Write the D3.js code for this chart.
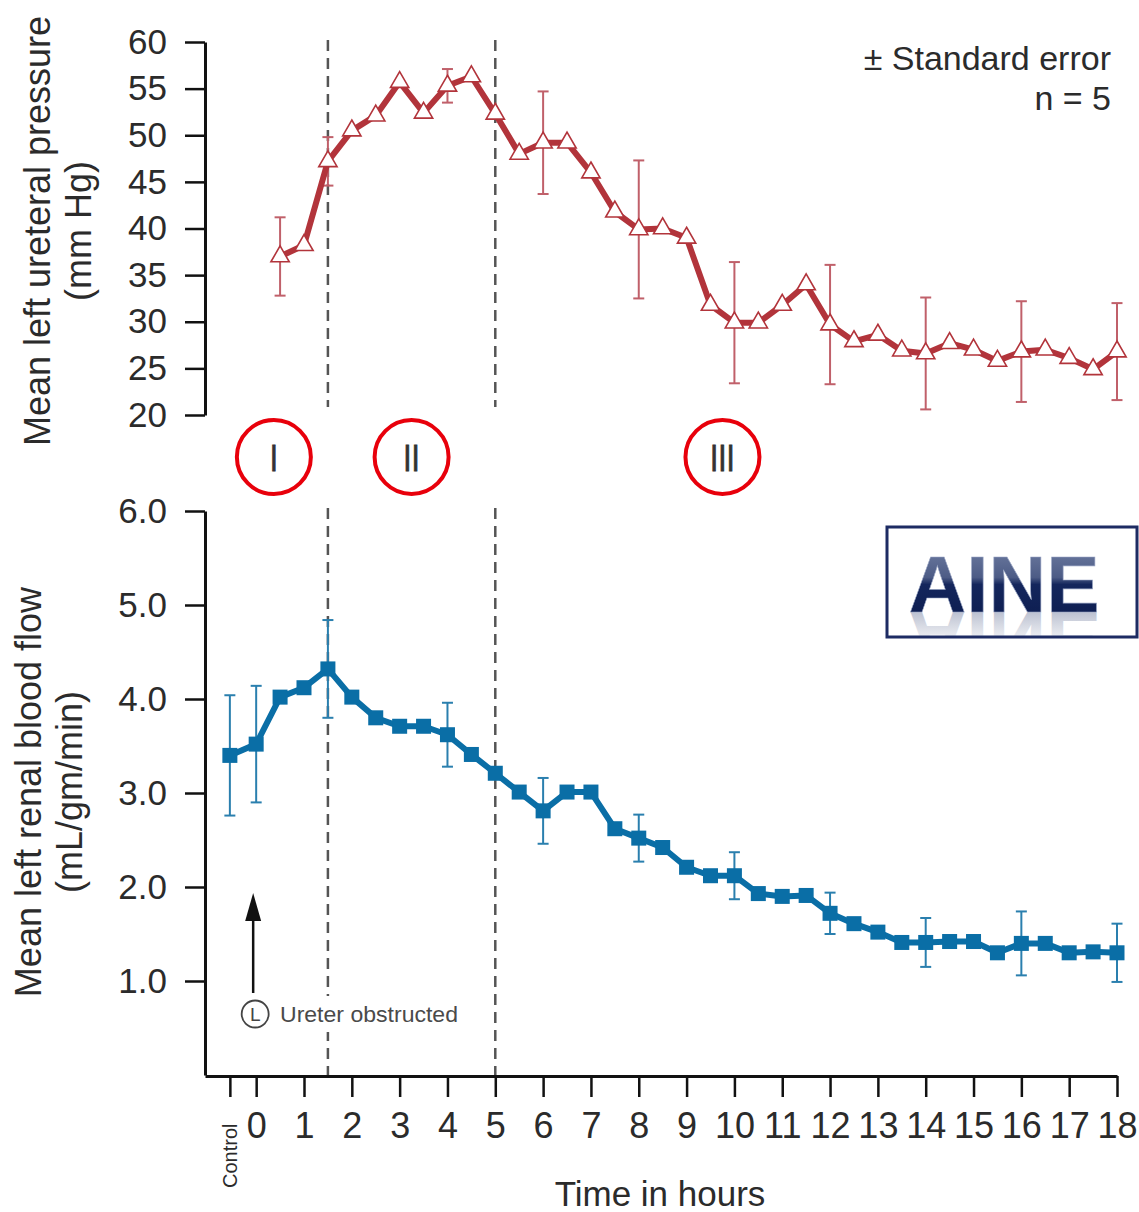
<!DOCTYPE html>
<html>
<head>
<meta charset="utf-8">
<script src="https://cdn.jsdelivr.net/npm/d3@7"></script>
<style>
  body { margin: 0; background: #fff; }
  svg { display: block; font-family: "Liberation Sans", Arial, Helvetica, sans-serif; }
</style>
</head>
<body>
<svg id="chart" width="1139" height="1212"></svg>
<script>
// ---- data ----
const CONTROL_AT = -0.55; // where the "Control" tick sits on the hour axis

const hourTicks = [0, 1, 2, 3, 4, 5, 6, 7, 8, 9, 10, 11, 12, 13, 14, 15, 16, 17, 18];
const phaseBreaks = [1.5, 5];
const phaseLabels = ['I', 'II', 'III'];
const phaseLabelHours = [0.37, 3.25, 9.75];

// ureteral pressure (mm Hg)
const pressureHours = [0.5, 1, 1.5, 2, 2.5, 3, 3.5, 4, 4.5, 5, 5.5, 6, 6.5, 7, 7.5, 8, 8.5, 9,
  9.5, 10, 10.5, 11, 11.5, 12, 12.5, 13, 13.5, 14, 14.5, 15, 15.5, 16, 16.5, 17, 17.5, 18];
const pressureMean = [37.0, 38.2, 47.2, 50.5, 52.1, 55.7, 52.4, 55.3, 56.3, 52.3, 48.0, 49.2,
  49.2, 46.0, 41.8, 39.9, 40.0, 39.0, 31.8, 29.9, 29.9, 31.8, 34.0, 29.7, 27.9, 28.6, 26.9, 26.6,
  27.7, 27.0, 25.8, 26.8, 27.0, 26.1, 24.9, 26.8];
const pressureErrHours = [0.5, 1.5, 4, 6, 8, 10, 12, 14, 16, 18];
const pressureSE = [4.2, 2.6, 1.8, 5.5, 7.4, 6.5, 6.4, 6.0, 5.4, 5.2];
const pressureTicks = [20, 25, 30, 35, 40, 45, 50, 55, 60];

// renal blood flow (mL/gm/min)
const flowTimes = ['Control', 0, 0.5, 1, 1.5, 2, 2.5, 3, 3.5, 4, 4.5, 5, 5.5, 6, 6.5, 7, 7.5, 8,
  8.5, 9, 9.5, 10, 10.5, 11, 11.5, 12, 12.5, 13, 13.5, 14, 14.5, 15, 15.5, 16, 16.5, 17, 17.5, 18];
const flowMean = [3.40, 3.52, 4.02, 4.12, 4.32, 4.02, 3.80, 3.71, 3.71, 3.62, 3.41, 3.21, 3.01,
  2.81, 3.01, 3.01, 2.62, 2.52, 2.42, 2.21, 2.12, 2.12, 1.93, 1.90, 1.91, 1.72, 1.61, 1.52, 1.41,
  1.41, 1.42, 1.42, 1.30, 1.40, 1.40, 1.30, 1.31, 1.30];
const flowErrTimes = ['Control', 0, 1.5, 4, 6, 8, 10, 12, 14, 16, 18];
const flowSE = [0.64, 0.62, 0.52, 0.34, 0.35, 0.25, 0.25, 0.22, 0.26, 0.34, 0.31];
const flowTicks = [1, 2, 3, 4, 5, 6];

const RED = '#b2343b', RED_ERR = '#c0606a';
const BLUE = '#0a6ea6', BLUE_ERR = '#2a7fae';
const INK = '#2b2b2b';

const hourOf = t => (t === 'Control' ? CONTROL_AT : t);

const svg = d3.select('#chart');

// shared x scale (hours), left edge at the y axes
const x = d3.scaleLinear().domain([-1.07, 18]).range([205, 1117]);

const yP = d3.scaleLinear().domain([20, 60]).range([415, 42]);
const yF = d3.scaleLinear().domain([0, 6]).range([1075, 511]);

function styleAxis(g) {
  g.select('.domain').attr('stroke', '#111').attr('stroke-width', 3);
  g.selectAll('.tick line').attr('stroke', '#111').attr('stroke-width', 2.5);
  g.selectAll('.tick text').attr('fill', INK).style('font-size', '35px');
}

// ---- y axes ----
svg.append('g')
  .attr('transform', 'translate(205,0)')
  .call(d3.axisLeft(yP).tickValues(pressureTicks).tickSize(20).tickSizeOuter(0).tickPadding(18))
  .call(styleAxis);

svg.append('g')
  .attr('transform', 'translate(205,0)')
  .call(d3.axisLeft(yF).tickValues(flowTicks).tickSize(20).tickSizeOuter(0).tickPadding(18)
    .tickFormat(d3.format('.1f')))
  .call(styleAxis);

// ---- x axis ----
const xAxis = svg.append('g')
  .attr('transform', 'translate(0,1076)')
  .call(d3.axisBottom(x).tickValues([CONTROL_AT].concat(hourTicks)).tickSize(21)
    .tickSizeOuter(0).tickPadding(14)
    .tickFormat(d => (d === CONTROL_AT ? '' : d)))
  .call(styleAxis);
xAxis.selectAll('.tick text').style('font-size', '36px').attr('dy', '0.74em');

svg.append('text')
  .attr('transform', `translate(${x(CONTROL_AT) + 7},1188) rotate(-90)`)
  .attr('fill', INK).style('font-size', '20px')
  .text('Control');

svg.append('text')
  .attr('x', 660).attr('y', 1206).attr('text-anchor', 'middle')
  .attr('fill', INK).style('font-size', '35px')
  .text('Time in hours');

// ---- axis titles ----
function yTitle(lines, cx, cy) {
  const t = svg.append('text')
    .attr('transform', `translate(${cx},${cy}) rotate(-90)`)
    .attr('text-anchor', 'middle').attr('fill', INK).style('font-size', '36px');
  lines.forEach((s, i) => t.append('tspan').attr('x', 0).attr('dy', i ? 41 : 0).text(s));
}
yTitle(['Mean left ureteral pressure', '(mm Hg)'], 50, 231);
yTitle(['Mean left renal blood flow', '(mL/gm/min)'], 41, 792);

// ---- phase boundaries ----
phaseBreaks.forEach(h => {
  [[40, 407], [508, 1075]].forEach(([a, b]) => {
    svg.append('line')
      .attr('x1', x(h)).attr('x2', x(h)).attr('y1', a).attr('y2', b)
      .attr('stroke', '#555').attr('stroke-width', 2.5).attr('stroke-dasharray', '11,7');
  });
});

// phase markers
phaseLabels.forEach((s, i) => {
  const cx = x(phaseLabelHours[i]);
  svg.append('circle').attr('cx', cx).attr('cy', 457).attr('r', 37)
    .attr('fill', 'none').attr('stroke', '#e8000b').attr('stroke-width', 4);
  svg.append('text').attr('x', cx).attr('y', 471).attr('text-anchor', 'middle')
    .attr('fill', '#333').attr('stroke', '#333').attr('stroke-width', 0.8)
    .style('font-size', '37px')
    .attr('transform', `translate(${cx},0) scale(0.8,1) translate(${-cx},0)`)
    .text(s);
});

// ---- pressure series ----
const pressure = pressureHours.map((h, i) => ({ h, v: pressureMean[i] }));
const pressureErr = pressureErrHours.map((h, i) => ({ h, v: pressureMean[pressureHours.indexOf(h)], se: pressureSE[i] }));

function errorBars(data, y, color) {
  const g = svg.append('g').attr('stroke', color).attr('stroke-width', 2);
  data.forEach(d => {
    const cx = x(d.h);
    g.append('line').attr('x1', cx).attr('x2', cx).attr('y1', y(d.v + d.se)).attr('y2', y(d.v - d.se));
    [d.v + d.se, d.v - d.se].forEach(v => g.append('line')
      .attr('x1', cx - 5.5).attr('x2', cx + 5.5).attr('y1', y(v)).attr('y2', y(v)));
  });
}

errorBars(pressureErr, yP, RED_ERR);

svg.append('path')
  .datum(pressure)
  .attr('fill', 'none').attr('stroke', RED).attr('stroke-width', 6).attr('stroke-linejoin', 'round')
  .attr('d', d3.line().x(d => x(d.h)).y(d => yP(d.v)));

svg.append('g').selectAll('path')
  .data(pressure).enter().append('path')
  .attr('transform', d => `translate(${x(d.h)},${yP(d.v)})`)
  .attr('d', d3.symbol(d3.symbolTriangle, 145))
  .attr('fill', '#fff').attr('stroke', RED).attr('stroke-width', 1.6);

// ---- flow series ----
const flow = flowTimes.map((t, i) => ({ h: hourOf(t), v: flowMean[i] }));
const flowErr = flowErrTimes.map((t, i) => ({ h: hourOf(t), v: flowMean[flowTimes.indexOf(t)], se: flowSE[i] }));

errorBars(flowErr, yF, BLUE_ERR);

svg.append('path')
  .datum(flow)
  .attr('fill', 'none').attr('stroke', BLUE).attr('stroke-width', 6).attr('stroke-linejoin', 'round')
  .attr('d', d3.line().x(d => x(d.h)).y(d => yF(d.v)));

svg.append('g').selectAll('rect')
  .data(flow).enter().append('rect')
  .attr('x', d => x(d.h) - 7.5).attr('y', d => yF(d.v) - 7.5)
  .attr('width', 15).attr('height', 15)
  .attr('fill', BLUE);

// ---- legend text ----
svg.append('text').attr('x', 1111).attr('y', 70).attr('text-anchor', 'end')
  .attr('fill', INK).style('font-size', '34px').text('± Standard error');
svg.append('text').attr('x', 1111).attr('y', 110).attr('text-anchor', 'end')
  .attr('fill', INK).style('font-size', '34px').text('n = 5');

// ---- ureter obstructed marker ----
const ax = x(0) - 3;
svg.append('line').attr('x1', ax).attr('x2', ax).attr('y1', 993).attr('y2', 915)
  .attr('stroke', '#111').attr('stroke-width', 2.5);
svg.append('path')
  .attr('d', `M${ax},893 L${ax - 8},921 L${ax + 8},921 Z`).attr('fill', '#111');
// white patch so the dashed line breaks around the note, as in the original
svg.append('rect').attr('x', 276).attr('y', 996).attr('width', 186).attr('height', 36).attr('fill', '#fff');
svg.append('circle').attr('cx', ax + 2).attr('cy', 1014).attr('r', 13.5)
  .attr('fill', 'none').attr('stroke', '#444').attr('stroke-width', 1.8);
svg.append('text').attr('x', ax + 2).attr('y', 1021).attr('text-anchor', 'middle')
  .attr('fill', '#444').style('font-size', '19px').text('L');
svg.append('text').attr('x', 280).attr('y', 1022)
  .attr('fill', '#4a4a4a').style('font-size', '22px')
  .attr('textLength', 178).attr('lengthAdjust', 'spacingAndGlyphs')
  .text('Ureter obstructed');

// ---- AINE logo ----
const defs = svg.append('defs');
const grad = defs.append('linearGradient').attr('id', 'aineGrad')
  .attr('x1', 0).attr('y1', 0).attr('x2', 0).attr('y2', 1);
[[0, '#7482a6'], [0.42, '#4d5c86'], [0.5, '#14265c'], [1, '#0b1b4d']]
  .forEach(([o, c]) => grad.append('stop').attr('offset', o).attr('stop-color', c));
const rgrad = defs.append('linearGradient').attr('id', 'aineRefl')
  .attr('x1', 0).attr('y1', 0).attr('x2', 0).attr('y2', 1);
[[0, '#0b1b4d', 0], [0.55, '#3d4d7a', 0.12], [1, '#14265c', 0.45]]
  .forEach(([o, c, a]) => rgrad.append('stop').attr('offset', o).attr('stop-color', c).attr('stop-opacity', a));
defs.append('clipPath').attr('id', 'aineClip')
  .append('rect').attr('x', 888).attr('y', 528).attr('width', 248).attr('height', 108);
defs.append('text').attr('id', 'aineWord')
  .attr('x', 1004).attr('y', 612).attr('text-anchor', 'middle')
  .style('font-size', '80px').style('font-weight', 'bold')
  .text('AINE');

svg.append('rect').attr('x', 887).attr('y', 527).attr('width', 250).attr('height', 110)
  .attr('fill', '#fff').attr('stroke', '#1d2b63').attr('stroke-width', 3);
const logo = svg.append('g').attr('clip-path', 'url(#aineClip)');
// mirrored reflection under the word
logo.append('use').attr('href', '#aineWord')
  .attr('transform', 'translate(0,1224) scale(1,-1)')
  .attr('fill', 'url(#aineRefl)');
logo.append('use').attr('href', '#aineWord')
  .attr('fill', 'url(#aineGrad)').attr('stroke', '#9aa6c4').attr('stroke-width', 0.6);
</script>
</body>
</html>
